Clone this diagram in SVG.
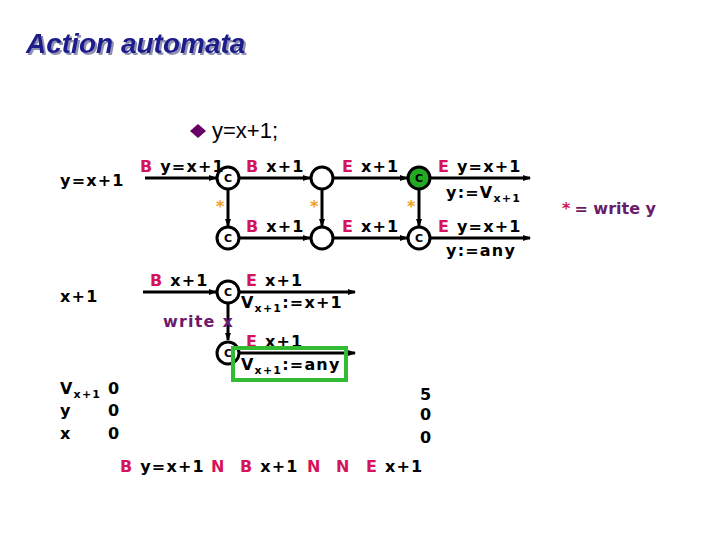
<svg xmlns="http://www.w3.org/2000/svg" width="720" height="540" viewBox="0 0 720 540">
<defs>
<marker id="ah" markerWidth="8" markerHeight="8" refX="7" refY="4" orient="auto" markerUnits="userSpaceOnUse"><path d="M0,1 L8,4 L0,7 z" fill="#000"/></marker>
<filter id="sh" x="-5%" y="-20%" width="115%" height="150%"><feDropShadow dx="2" dy="2" stdDeviation="0.5" flood-color="#9090b0"/></filter>
<style>
.t{font-family:"DejaVu Sans",Verdana,sans-serif;font-weight:bold;font-size:16px;fill:#000;letter-spacing:1.2px}
.m{fill:#d4145a}
.c{fill:#fff;stroke:#000;stroke-width:3}
.cl{font-family:"DejaVu Sans",sans-serif;font-weight:bold;font-size:11px;text-anchor:middle}
.ln{stroke:#000;stroke-width:3;fill:none}
.st{font-family:"DejaVu Sans",sans-serif;font-weight:bold;font-size:16px;fill:#f0a020}
.sub{font-size:11px}
</style>
</defs>
<rect width="720" height="540" fill="#fff"/>
<text x="26" y="53" font-family="Liberation Sans,Arial,sans-serif" font-weight="bold" font-style="italic" font-size="28" fill="#1a1a8c" filter="url(#sh)">Action automata</text>
<path d="M190,131 L198,124 L206,131 L198,138 z" fill="#660066"/>
<text x="212" y="138" font-family="Liberation Sans,Arial,sans-serif" font-size="22" fill="#000">y=x+1;</text>
<g id="connectors">
<line class="ln" x1="145" y1="178" x2="216" y2="178" marker-end="url(#ah)"/>
<line class="ln" x1="240" y1="178" x2="310" y2="178" marker-end="url(#ah)"/>
<line class="ln" x1="334" y1="178" x2="407" y2="178" marker-end="url(#ah)"/>
<line class="ln" x1="431" y1="178" x2="530" y2="178" marker-end="url(#ah)"/>
<line class="ln" x1="228" y1="190" x2="228" y2="226" marker-end="url(#ah)"/>
<line class="ln" x1="322" y1="190" x2="322" y2="226" marker-end="url(#ah)"/>
<line class="ln" x1="419" y1="190" x2="419" y2="226" marker-end="url(#ah)"/>
<line class="ln" x1="240" y1="238" x2="310" y2="238" marker-end="url(#ah)"/>
<line class="ln" x1="334" y1="238" x2="407" y2="238" marker-end="url(#ah)"/>
<line class="ln" x1="431" y1="238" x2="530" y2="238" marker-end="url(#ah)"/>
<line class="ln" x1="143" y1="292" x2="216" y2="292" marker-end="url(#ah)"/>
<line class="ln" x1="240" y1="292" x2="355" y2="292" marker-end="url(#ah)"/>
<line class="ln" x1="228" y1="304" x2="228" y2="340" marker-end="url(#ah)"/>
<line class="ln" x1="240" y1="353" x2="355" y2="353" marker-end="url(#ah)"/>
</g>
<g id="n1"><circle class="c" cx="228" cy="178" r="11"/><text class="cl" x="228" y="182">C</text></g>
<g id="n2"><circle class="c" cx="322" cy="178" r="11"/></g>
<g id="n3"><circle class="c" cx="419" cy="178" r="11" style="fill:#22aa22"/><text class="cl" x="419" y="182">C</text></g>
<g id="n4"><circle class="c" cx="228" cy="238" r="11"/><text class="cl" x="228" y="242">C</text></g>
<g id="n5"><circle class="c" cx="322" cy="238" r="11"/></g>
<g id="n6"><circle class="c" cx="419" cy="238" r="11"/><text class="cl" x="419" y="242">C</text></g>
<g id="n7"><circle class="c" cx="228" cy="292" r="11"/><text class="cl" x="228" y="296">C</text></g>
<g id="n8"><circle class="c" cx="228" cy="353" r="11"/><text class="cl" x="228" y="357">C</text></g>
<text class="st" x="216" y="212">*</text><text class="st" x="310" y="212">*</text><text class="st" x="407" y="212">*</text>
<text class="t" x="60" y="186">y=x+1</text>
<text class="t" x="140" y="172"><tspan class="m">B</tspan> y=x+1</text>
<text class="t" x="246" y="172"><tspan class="m">B</tspan> x+1</text>
<text class="t" x="342" y="172"><tspan class="m">E</tspan> x+1</text>
<text class="t" x="438" y="172"><tspan class="m">E</tspan> y=x+1</text>
<text class="t" x="446" y="198">y:=V<tspan class="sub" dy="4">x+1</tspan></text>
<text class="t" x="246" y="232"><tspan class="m">B</tspan> x+1</text>
<text class="t" x="342" y="232"><tspan class="m">E</tspan> x+1</text>
<text class="t" x="438" y="232"><tspan class="m">E</tspan> y=x+1</text>
<text class="t" x="446" y="256">y:=any</text>
<text x="562" y="214" font-family="DejaVu Sans,sans-serif" font-weight="bold" font-size="16"><tspan fill="#d4145a">*</tspan><tspan fill="#6a1b6a" dx="4">= write y</tspan></text>
<text class="t" x="60" y="302">x+1</text>
<text class="t" x="150" y="286"><tspan class="m">B</tspan> x+1</text>
<text class="t" x="246" y="286"><tspan class="m">E</tspan> x+1</text>
<text class="t" x="241" y="308">V<tspan class="sub" dy="4">x+1</tspan><tspan dy="-4">:=x+1</tspan></text>
<text class="t" x="163" y="327" style="fill:#6a1b6a">write x</text>
<text class="t" x="246" y="347"><tspan class="m">E</tspan> x+1</text>
<rect x="233" y="348" width="113" height="32" fill="none" stroke="#33bb33" stroke-width="4"/>
<text class="t" x="241" y="370">V<tspan class="sub" dy="4">x+1</tspan><tspan dy="-4">:=any</tspan></text>
<text class="t" x="60" y="394">V<tspan class="sub" dy="4">x+1</tspan></text>
<text class="t" x="108" y="394">0</text>
<text class="t" x="60" y="416">y</text><text class="t" x="108" y="416">0</text>
<text class="t" x="60" y="439">x</text><text class="t" x="108" y="439">0</text>
<text class="t" x="420" y="400">5</text><text class="t" x="420" y="420">0</text><text class="t" x="420" y="443">0</text>
<text class="t" x="120" y="472"><tspan class="m">B</tspan> y=x+1</text>
<text class="t m" x="211" y="472">N</text>
<text class="t" x="240" y="472"><tspan class="m">B</tspan> x+1</text>
<text class="t m" x="307" y="472">N</text>
<text class="t m" x="336" y="472">N</text>
<text class="t" x="366" y="472"><tspan class="m">E</tspan> x+1</text>
</svg>
